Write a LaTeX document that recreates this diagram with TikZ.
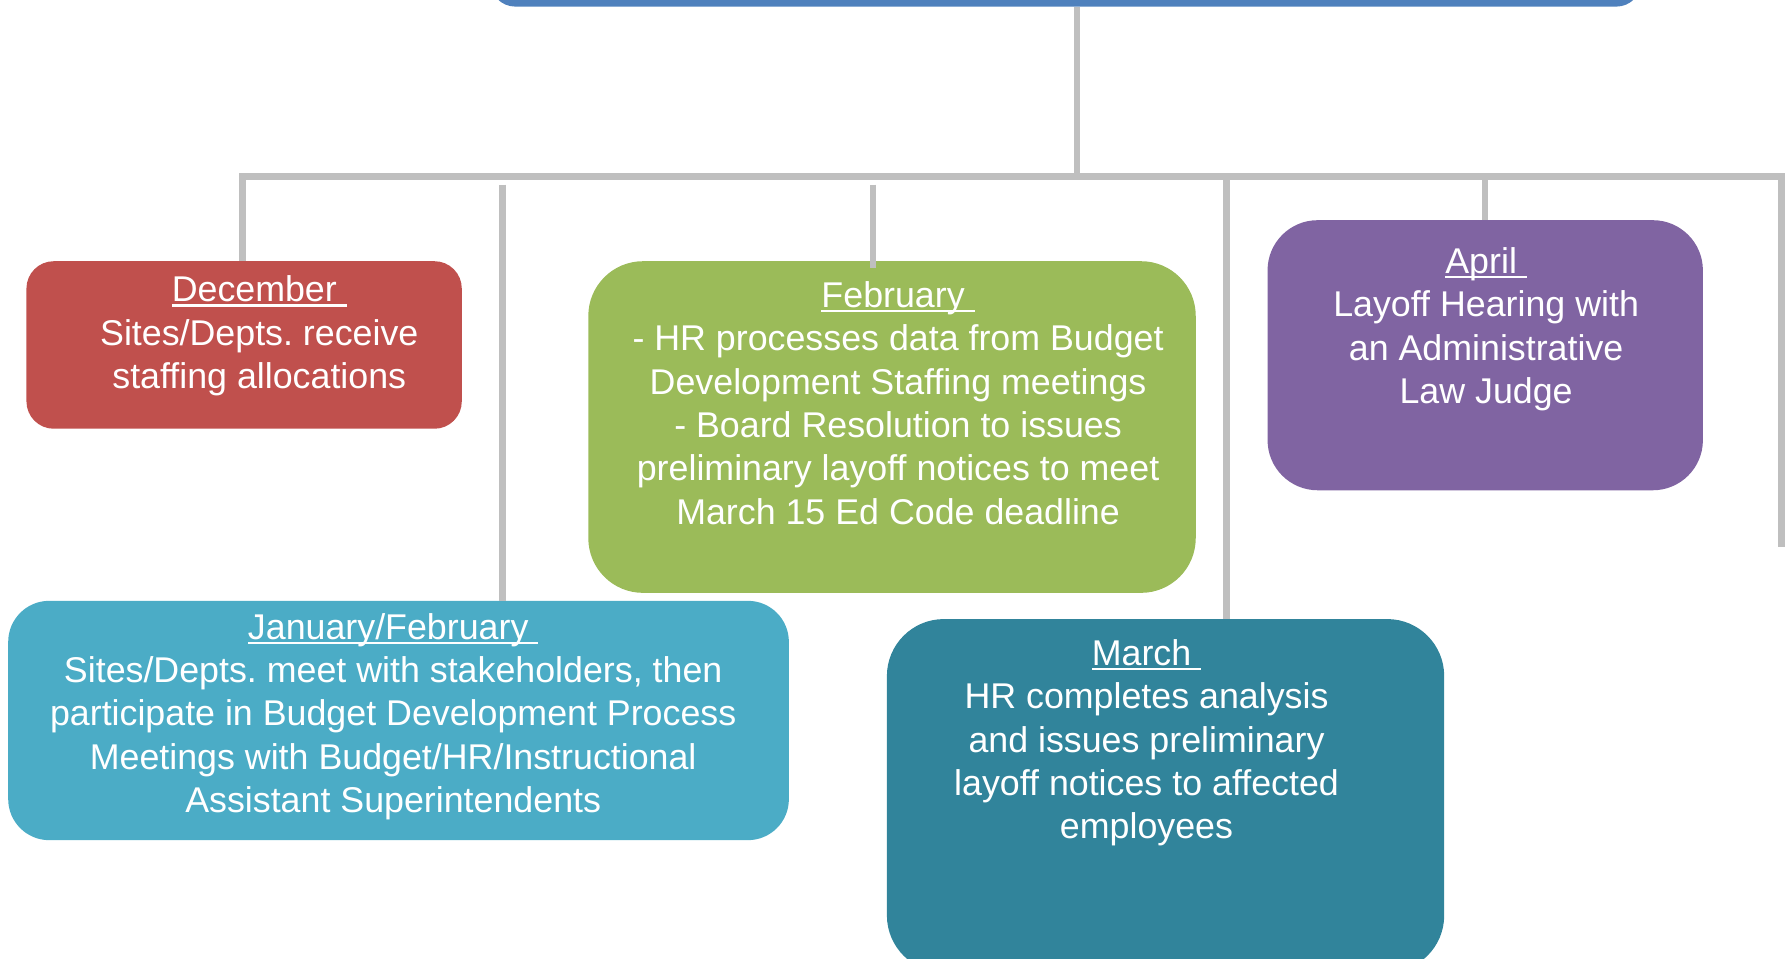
\documentclass[tikz,border=0pt]{standalone}
\usepackage{fontspec}
\setmainfont{Liberation Sans}
\frenchspacing
\definecolor{cred}{HTML}{C0504D}
\definecolor{cgreen}{HTML}{9BBB59}
\definecolor{cpurple}{HTML}{8064A2}
\definecolor{clblue}{HTML}{4BACC6}
\definecolor{cteal}{HTML}{31849B}
\definecolor{cblue}{HTML}{4F81BD}
\definecolor{cgray}{HTML}{BFBFBF}
\newcommand\myul[1]{\setbox0\hbox{#1}\rlap{\usebox0}\rule[-0.13em]{\wd0}{0.065em}}
\tikzset{
  conn/.style={draw=cgray, line width=5.8pt},
  boxshape/.style={rectangle, inner sep=0pt, draw=none},
  txt/.style={anchor=north, align=center, inner sep=0pt, text=white,
    font=\fontsize{31.4}{38}\selectfont}
}
\begin{document}
\begin{tikzpicture}[x=1pt,y=1pt]
\useasboundingbox (0,0) rectangle (1568,841);
\clip (0,0) rectangle (1568,841);
% connector points
\coordinate (hub) at (945,686);
\coordinate (lend) at (213,686);
\coordinate (rend) at (1563,686);
\coordinate (rdown) at (1563,361);
\coordinate (jftop) at (441,679);
\coordinate (febtop) at (766,679);
\coordinate (martop) at (1076,684);
\coordinate (aprtop) at (1303,686);

% boxes
\node[boxshape, fill=cblue, rounded corners=22pt, minimum width=1010pt, minimum height=80pt, anchor=south west] (top) at (430,835) {};
\node[boxshape, fill=cred, rounded corners=24pt, minimum width=382pt, minimum height=147pt, anchor=north west] (dec) at (23,612) {};
\node[boxshape, fill=cgreen, rounded corners=48pt, minimum width=533pt, minimum height=291pt, anchor=north west] (feb) at (516,612) {};
\node[boxshape, fill=cpurple, rounded corners=44pt, minimum width=382pt, minimum height=237pt, anchor=north west] (apr) at (1112,648) {};
\node[boxshape, fill=clblue, rounded corners=36pt, minimum width=685pt, minimum height=210pt, anchor=north west] (jf) at (7,314) {};
\node[boxshape, fill=cteal, rounded corners=50pt, minimum width=489pt, minimum height=310pt, anchor=north west] (mar) at (778,298) {};

% connectors (behind boxes)
\begin{scope}[on background layer/.style={}]
\end{scope}
\begin{pgfonlayer}{main}\end{pgfonlayer}
\draw[conn] (top.south -| hub) -- (hub);
\draw[conn] (dec.north -| lend) -- (lend) -- (rend) -- (rdown);
\draw[conn] (jftop) -- (jf.north -| jftop);
\draw[conn] (febtop) -- ([yshift=-6pt]feb.north -| febtop);
\draw[conn] (martop) -- (mar.north -| martop);
\draw[conn] (aprtop) -- (apr.north -| aprtop);

% texts
\node[txt] (dect) at (227.5,599) {\myul{December~}\\Sites/Depts. receive\\staffing allocations};
\node[txt] (febt) at (788,594) {\myul{February~}\\- HR processes data from Budget\\Development Staffing meetings\\- Board Resolution to issues\\preliminary layoff notices to meet\\March 15 Ed Code deadline};
\node[txt] (aprt) at (1304,624) {\myul{April~}\\Layoff Hearing with\\an Administrative\\Law Judge};
\node[txt] (jft) at (345,303) {\myul{January/February~}\\Sites/Depts. meet with stakeholders, then\\participate in Budget Development Process\\Meetings with Budget/HR/Instructional\\Assistant Superintendents};
\node[txt] (mart) at (1006,280) {\myul{March~}\\HR completes analysis\\and issues preliminary\\layoff notices to affected\\employees};
\end{tikzpicture}
\end{document}
